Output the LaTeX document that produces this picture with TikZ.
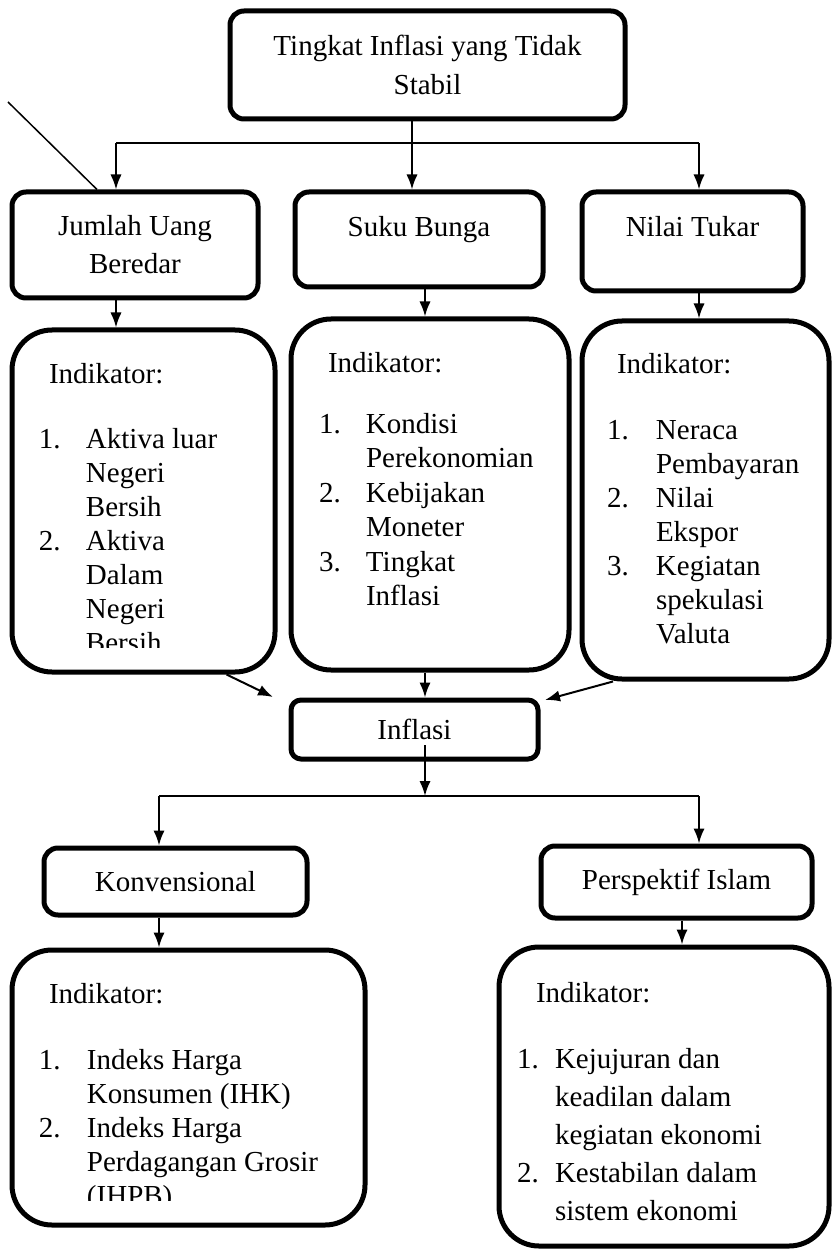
\documentclass[tikz,border=0pt]{standalone}
\usepackage{fontspec}
\setmainfont{Liberation Serif}
\usetikzlibrary{positioning, arrows.meta}

\newcommand{\nmr}[2][23.5pt]{\makebox[#1][l]{#2}}

\tikzset{
    head/.style={draw, line width=2.5pt, rounded corners=7pt, align=center, inner sep=0pt},
    indbox/.style={draw, line width=2.5pt, rounded corners=20pt, inner sep=0pt},
    indtext/.style={anchor=north west, align=left, inner sep=0pt},
    indlabel/.style={anchor=base west, inner sep=0pt}
}

\begin{document}
\begin{tikzpicture}[x=0.5pt, y=-0.5pt, >=Latex, line width=1pt, font=\fontsize{14.5}{17}\selectfont]
        \useasboundingbox (0,0) rectangle (833,1251);

        % Nodes
        \node (top) [head, minimum width=197.5pt, minimum height=54pt, font=\fontsize{14.5}{19.5}\selectfont] at (427.5,65) {Tingkat Inflasi yang Tidak\\Stabil};

        \node (jumlah) [head, minimum width=123pt, minimum height=53pt, font=\fontsize{14.5}{19}\selectfont] at (135,245) {Jumlah Uang\\Beredar};
        \node (suku) [head, minimum width=124pt, minimum height=47.5pt, text height=10pt, text depth=12.5pt] at (419,239.5) {Suku Bunga};
        \node (nilai) [head, minimum width=110.5pt, minimum height=49.5pt, text height=10pt, text depth=14.5pt] at (692.5,241.5) {Nilai Tukar};

        \node (jin) [indbox, minimum width=131.5pt, minimum height=171pt] at (143.5,501) {};
        \node (sin) [indbox, minimum width=139pt, minimum height=175.5pt] at (430,494.5) {};
        \node (nin) [indbox, minimum width=123.5pt, minimum height=179pt] at (705.5,500) {};

        \node (inf) [head, rounded corners=5pt, minimum width=123.5pt, minimum height=29.5pt] at (414.5,729.5) {Inflasi};

        \node (konv) [head, minimum width=131.5pt, minimum height=33.5pt] at (175.5,881.5) {Konvensional};
        \node (persp) [head, minimum width=135.5pt, minimum height=36pt] at (676.5,882) {Perspektif Islam};

        \node (kin) [indbox, minimum width=176.5pt, minimum height=137.5pt] at (188.5,1087.5) {};
        \node (pin) [indbox, minimum width=165pt, minimum height=149.5pt] at (664,1096.5) {};

        % Indikator texts
        \node (jinlabel) [indlabel] at (48,383) {Indikator:};
        \begin{scope}
            \clip (0,0) rectangle (833,647);
            \node (jinlist) [indtext] at (38,423.2) {\strut\nmr{1.}Aktiva luar\\ \nmr{}Negeri\\ \nmr{}Bersih\\ \nmr{2.}Aktiva\\ \nmr{}Dalam\\ \nmr{}Negeri\\ \nmr{}Bersih};
        \end{scope}

        \node (sinlabel) [indlabel] at (327,372) {Indikator:};
        \node (sinlist) [indtext, font=\fontsize{14.5}{17.25}\selectfont] at (318,407.9) {\strut\nmr{1.}Kondisi\\ \nmr{}Perekonomian\\ \nmr{2.}Kebijakan\\ \nmr{}Moneter\\ \nmr{3.}Tingkat\\ \nmr{}Inflasi};

        \node (ninlabel) [indlabel] at (616,373) {Indikator:};
        \node (ninlist) [indtext] at (606,414.2) {\strut\nmr[24.5pt]{1.}Neraca\\ \nmr[24.5pt]{}Pembayaran\\ \nmr[24.5pt]{2.}Nilai\\ \nmr[24.5pt]{}Ekspor\\ \nmr[24.5pt]{3.}Kegiatan\\ \nmr[24.5pt]{}spekulasi\\ \nmr[24.5pt]{}Valuta};

        \node (kinlabel) [indlabel] at (48,1003) {Indikator:};
        \begin{scope}
            \clip (0,0) rectangle (833,1200);
            \node (kinlist) [indtext] at (38,1044.2) {\strut\nmr[24pt]{1.}Indeks Harga\\ \nmr[24pt]{}Konsumen (IHK)\\ \nmr[24pt]{2.}Indeks Harga\\ \nmr[24pt]{}Perdagangan Grosir\\ \nmr[24pt]{}(IHPB)};
        \end{scope}

        \node (pinlabel) [indlabel] at (535,1002) {Indikator:};
        \node (pinlist) [indtext, font=\fontsize{14.5}{19}\selectfont] at (516,1040.4) {\strut\nmr[19pt]{1.}Kejujuran dan\\ \nmr[19pt]{}keadilan dalam\\ \nmr[19pt]{}kegiatan ekonomi\\ \nmr[19pt]{2.}Kestabilan dalam\\ \nmr[19pt]{}sistem ekonomi};

        % Branch points
        \coordinate (splitA) at (412,143);
        \coordinate (brL) at (116,143);
        \coordinate (brR) at (699,143);
        \coordinate (splitB) at (425,796);
        \coordinate (brL2) at (159,796);
        \coordinate (brR2) at (699,796);
        \coordinate (infout) at (425,745);
        \coordinate (infL) at (273,697);
        \coordinate (infR) at (545,700);
        \coordinate (persx) at (682,0);
        \coordinate (stray) at (8,102);

        % Arrows
        \draw[->] (top.south -| splitA) -- (splitA |- suku.north);
        \draw (brL) -- (brR);
        \draw[->] (brL) -- (brL |- jumlah.north);
        \draw[->] (brR) -- (brR |- nilai.north);
        \draw[line width=0.75pt] (stray) -- ([xshift=-19pt]jumlah.north);

        \draw[->] (jumlah.south -| brL) -- (brL |- jin.north);
        \draw[->] (suku.south -| splitB) -- (splitB |- sin.north);
        \draw[->] (nilai.south -| brR) -- (brR |- nin.north);

        \draw[->] ([xshift=41.5pt]jin.south) -- (infL);
        \draw[->] (sin.south -| splitB) -- (splitB |- inf.north);
        \draw[->] ([xshift=-46.25pt]nin.south) -- (infR);

        \draw[->] (infout) -- (splitB);
        \draw (brL2) -- (brR2);
        \draw[->] (brL2) -- (brL2 |- konv.north);
        \draw[->] (brR2) -- (brR2 |- persp.north);
        \draw[->] (konv.south -| brL2) -- (brL2 |- kin.north);
        \draw[->] (persp.south -| persx) -- (persx |- pin.north);

    \end{tikzpicture}
\end{document}
